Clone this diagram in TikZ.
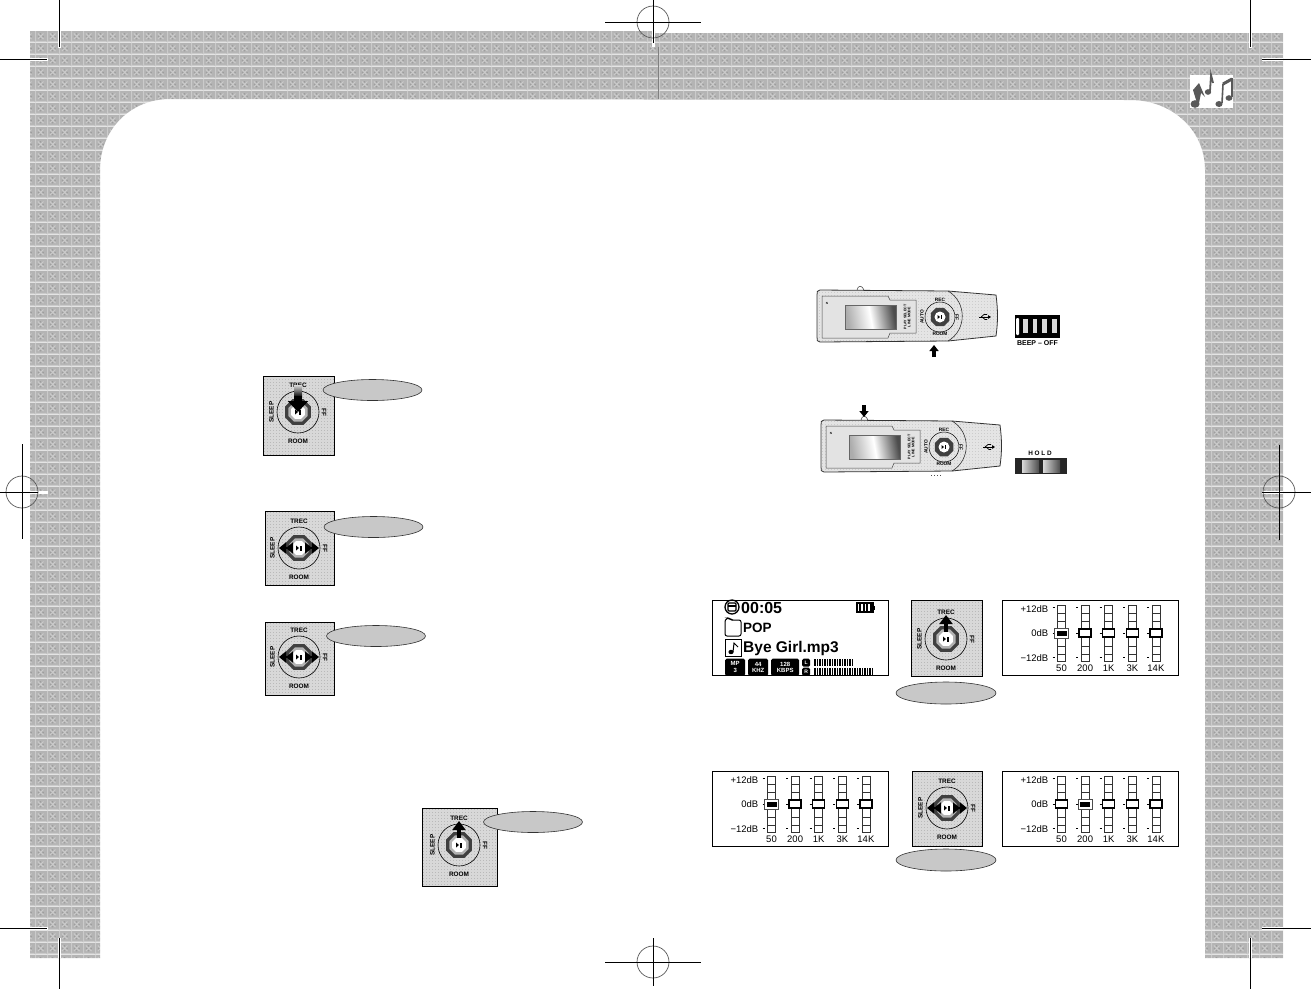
\documentclass[tikz,border=0pt]{standalone}
\usepackage{fontspec}
\setmainfont{Liberation Sans}
\usepackage{tikz}
\usetikzlibrary{calc, positioning, arrows.meta, patterns, shapes.geometric}
\usepackage{xcolor}
\definecolor{pageGrey}{RGB}{180, 180, 180}
\definecolor{padGrey}{RGB}{216, 216, 216}
\definecolor{ovalGrey}{RGB}{200, 200, 200}

% page ground, crosses on a grid
\pgfdeclarepatterninherentlycolored{pageweave}{\pgfpointorigin}{\pgfqpoint{11.7pt}{11.7pt}}{\pgfqpoint{11.7pt}{11.7pt}}{
  \pgfsetfillcolor{pageGrey}
  \pgfpathrectangle{\pgfpointorigin}{\pgfqpoint{11.7pt}{11.7pt}}\pgfusepath{fill}
  \pgfsetstrokecolor{pageGrey!70!white}
  \pgfsetlinewidth{1pt}
  \pgfpathmoveto{\pgfqpoint{3pt}{3pt}}\pgfpathlineto{\pgfqpoint{8.7pt}{8.7pt}}
  \pgfpathmoveto{\pgfqpoint{3pt}{8.7pt}}\pgfpathlineto{\pgfqpoint{8.7pt}{3pt}}
  \pgfpathmoveto{\pgfqpoint{0pt}{0.6pt}}\pgfpathlineto{\pgfqpoint{11.7pt}{0.6pt}}
  \pgfpathmoveto{\pgfqpoint{0.6pt}{0pt}}\pgfpathlineto{\pgfqpoint{0.6pt}{11.7pt}}
  \pgfusepath{stroke}
  \pgfsetfillcolor{pageGrey!88!black}
  \pgfpathrectangle{\pgfqpoint{3pt}{5pt}}{\pgfqpoint{1.4pt}{1.4pt}}
  \pgfpathrectangle{\pgfqpoint{7.6pt}{5pt}}{\pgfqpoint{1.4pt}{1.4pt}}
  \pgfpathrectangle{\pgfqpoint{5pt}{2.6pt}}{\pgfqpoint{1.4pt}{1.4pt}}
  \pgfpathrectangle{\pgfqpoint{5pt}{7.6pt}}{\pgfqpoint{1.4pt}{1.4pt}}
  \pgfusepath{fill}
}
\pgfdeclarepatternformonly{padspeck}{\pgfpointorigin}{\pgfqpoint{3pt}{3pt}}{\pgfqpoint{3pt}{3pt}}{
  \pgfpathrectangle{\pgfpointorigin}{\pgfqpoint{1pt}{1pt}}\pgfusepath{fill}
}

\tikzset{
  cropline/.style={black, line width=0.9pt},
  cropring/.style={black!65, line width=0.7pt},
  cuthalo/.style={white, line width=3pt},
  padbox/.style={draw=black, line width=0.7pt, inner sep=0pt,
    preaction={fill=padGrey}, pattern=padspeck, pattern color=gray!55},
  oval/.style={ellipse, draw=black!80, line width=0.6pt, fill=ovalGrey, inner sep=0pt,
    minimum width=99pt, minimum height=21pt},
  dialtext/.style={font=\fontsize{6.4}{7}\selectfont\bfseries, inner sep=0pt},
  playertext/.style={font=\fontsize{4.8}{5}\selectfont\bfseries, inner sep=0pt},
  eqtext/.style={font=\fontsize{9.5}{10}\selectfont, inner sep=0pt},
  panel/.style={draw=black, line width=1.3pt, fill=white, inner sep=0pt,
    minimum width=176pt, minimum height=75pt},
  chip/.style={fill=black, text=white, rounded corners=1.5pt, inner sep=0pt, align=center,
    font=\fontsize{6}{6.5}\selectfont\bfseries, minimum height=17pt},
  sidearrow/.style={line width=2.4pt, -{Triangle[width=11pt,length=7pt]}},
  uparrow/.style={line width=4pt, -{Triangle[width=13pt,length=9pt]}},
  bigarrow/.style={line width=8pt, -{Triangle[width=20pt,length=11pt]}},
  smallarrow/.style={line width=3.2pt, -{Triangle[width=9pt,length=6pt]}},
}

% the wheel of a pad: #1 name, #2 x, #3 y
\newcommand{\dialface}[3]{
  \begin{scope}[shift={(#2,#3)}]
    \draw[black, line width=0.6pt] (0,0) circle [radius=21pt];
    \node[regular polygon, regular polygon sides=8, fill=black!75, inner sep=0pt, minimum size=28pt] (#1) at (0,0) {};
    \node[regular polygon, regular polygon sides=8, fill=gray!60, inner sep=0pt, minimum size=21pt] at (0,0) {};
    \node[regular polygon, regular polygon sides=8, fill=white, inner sep=0pt, minimum size=15pt] at (0,0) {};
    \fill[black] (-3,-2.5) -- (0,0) -- (-3,2.5) -- cycle;
    \fill[black] (1,-2.5) rectangle (3,2.5);
    \node[dialtext] at (0,-27) {TREC};
    \node[dialtext] at (0,29) {ROOM};
    \node[dialtext, rotate=90] at (-26.5,0) {SLEEP};
    \node[dialtext, rotate=-90] at (26,0) {FF};
  \end{scope}
}
% arrows on both sides of a wheel
\newcommand{\dialsides}[2]{
  \begin{scope}[shift={(#1,#2)}]
    \draw[sidearrow] (-9,0) -- (-20,0);
    \draw[sidearrow] (-12,0) -- (-13,0);
    \draw[sidearrow] (9,0) -- (20,0);
    \draw[sidearrow] (12,0) -- (13,0);
  \end{scope}
}
% equalizer screen: #1 name, #2 x, #3 y (top left), #4 slider in use
\newcommand{\eqpanel}[4]{
  \node[panel, anchor=north west] (#1) at (#2,#3) {};
  \begin{scope}[shift={(#2,#3)}]
    \node[eqtext, anchor=east] at (47,9) {+12dB};
    \node[eqtext, anchor=east] at (47,33) {0dB};
    \node[eqtext, anchor=east] at (47,58) {−12dB};
    \foreach \i/\f in {0/50, 1/200, 2/1K, 3/3K, 4/14K} {
      \pgfmathsetmacro{\sx}{60+23.6*\i}
      \draw[black!80, line width=0.7pt] (\sx-4,5) rectangle (\sx+4,61);
      \foreach \ry in {13,21,46,54} \draw[black!80, line width=0.7pt] (\sx-4,\ry) -- (\sx+4,\ry);
      \foreach \ry in {7,33,57} \draw[black, line width=0.8pt] (\sx-9,\ry) -- (\sx-7,\ry);
      \ifnum\i=#4
        \draw[black!70, fill=white, line width=0.8pt] (\sx-7,28) rectangle (\sx+7,38);
        \fill[black] (\sx-5,30.5) rectangle (\sx+5,35.5);
      \else
        \draw[black, fill=white, line width=1.5pt] (\sx-6,29) rectangle (\sx+6,37);
      \fi
      \node[eqtext] at (\sx,68.5) {\f};
    }
  \end{scope}
}
% the player seen from above: #1 name, #2 x, #3 y (top left)
\newcommand{\playerbody}[3]{
  \begin{scope}[shift={(#2,#3)}]
    \draw[black!80, line width=0.5pt, fill=white] (40,0) .. controls (41,-5) and (45,-5) .. (47,0);
    \path[draw=black!80, line width=0.8pt, preaction={fill=padGrey!70!white}, pattern=padspeck, pattern color=gray!40]
      (3,0) -- (131,1) -- (179,5) .. controls (181,20) and (181,32) .. (179,46) -- (131,51) -- (3,52)
      .. controls (0,52) and (0,50) .. (0,47) -- (0,5) .. controls (0,2) and (0,0) .. (3,0) -- cycle;
    \draw[black!80, line width=0.6pt] (131,1) .. controls (150,12) and (150,40) .. (131,51);
    \draw[black!70, line width=0.5pt, fill=gray!22]
      (5,6) -- (71,6) -- (73,10) -- (99,10) -- (99,43) -- (73,43) -- (71,48) -- (5,48) -- cycle;
    \shade[left color=gray!65, right color=black!70, middle color=white, shading angle=100, draw=black!60, line width=0.5pt] (28,15) rectangle (79,39);
    \node[font=\fontsize{3.6}{4}\selectfont\bfseries, rotate=90, align=center, inner sep=0pt] at (90,27) {PLAY SELECT\\LINE MODE};
    \node[font=\fontsize{3}{3}\selectfont\bfseries, inner sep=0pt] at (10,13) {N};
    \draw[black, line width=0.5pt] (123,27) circle [radius=15pt];
    \node[regular polygon, regular polygon sides=8, fill=black!75, inner sep=0pt, minimum size=20pt] (#1) at (123,27) {};
    \node[circle, fill=white, inner sep=0pt, minimum size=11pt] at (123,27) {};
    \fill[black] (120.5,25) -- (123,27) -- (120.5,29) -- cycle;
    \fill[black] (123.5,25) rectangle (125,29);
    \node[playertext] at (123,10) {REC};
    \node[playertext] at (123,44) {ROOM};
    \node[playertext, rotate=90] at (105,27) {AUTO};
    \node[playertext, rotate=-90] at (140,27) {FF};
    \draw[black, line width=0.9pt, -{Triangle[width=3.5pt,length=3pt]}] (162,27) -- (174,27);
    \draw[black, line width=0.7pt] (164,27) -- (167,24.5) -- (170,24.5) (165,27) -- (168,29.5) -- (170,29.5);
  \end{scope}
}

\begin{document}
\begin{tikzpicture}[x=1pt, y=-1pt, >=Stealth]
  \useasboundingbox (0,0) rectangle (1311,989);
  \fill[white] (0,0) rectangle (1311,989);

  % page ground
  \path[pattern=pageweave] (30,31) -- (655,31) -- (655,33) -- (1283,33) -- (1283,958) -- (1205,958) -- (1205,170)
    .. controls (1205,130) and (1172,100) .. (1130,100) -- (170,99)
    .. controls (130,99) and (100,130) .. (100,170) -- (100,958) -- (30,958) -- cycle;
  \draw[black!50, line width=0.6pt] (658,47) -- (658,99);

  % cut and register marks
  \draw[cuthalo] (59.5,31) -- (59.5,48);
  \draw[cuthalo] (30,59) -- (48,59);
  \draw[cuthalo] (1250,33) -- (1250,48);
  \draw[cuthalo] (1262,59) -- (1283,59);
  \draw[cuthalo] (59.5,938) -- (59.5,958);
  \draw[cuthalo] (30,928) -- (48,928);
  \draw[cuthalo] (1250,938) -- (1250,958);
  \draw[cuthalo] (1262,928) -- (1283,928);
  \draw[cuthalo] (653,31) -- (653,47);
  \draw[cuthalo] (30,492) -- (48,492);
  \draw[cuthalo] (1262,492) -- (1283,492);
  \draw[cropline] (59.5,0) -- (59.5,47);
  \draw[cropline] (0,59) -- (47,59);
  \draw[cropline] (1250,0) -- (1250,47);
  \draw[cropline] (1262,59) -- (1311,59);
  \draw[cropline] (59.5,938) -- (59.5,989);
  \draw[cropline] (0,928) -- (47,928);
  \draw[cropline] (1250,938) -- (1250,989);
  \draw[cropline] (1262,928) -- (1311,928);
  \foreach \mx/\my in {653/22, 653/962, 22/492, 1279/492} {
    \draw[cropring] (\mx,\my) circle [radius=16pt];
  }
  \draw[cropline] (605,22) -- (701,22);
  \draw[cropline] (653,0) -- (653,43);
  \draw[cropline] (605,962) -- (701,962);
  \draw[cropline] (653,938) -- (653,986);
  \draw[cropline] (0,492) -- (38,492);
  \draw[cropline] (22,444) -- (22,539);
  \draw[cropline] (1262,492) -- (1311,492);
  \draw[cropline] (1279,445) -- (1279,540);

  % notes, top right
  \fill[white] (1190,75) rectangle (1233,108);
  \fill[black!65] (1195,104) ellipse [x radius=4.5pt, y radius=3.8pt];
  \fill[black!65] (1208,92) ellipse [x radius=3.2pt, y radius=2.8pt];
  \fill[black!65] (1219,104) ellipse [x radius=3.6pt, y radius=3pt];
  \fill[black!65] (1229,98) ellipse [x radius=3.4pt, y radius=2.8pt];
  \fill[black!65] (1197,103) -- (1193,90) -- (1199,83) -- (1205,97) -- (1201,93) -- (1199,103) -- cycle;
  \draw[black!65, line width=1.8pt] (1210,91) -- (1211,75) -- (1213,83);
  \draw[black!65, line width=1.6pt] (1222,103) -- (1223,84);
  \draw[black!65, line width=1.6pt] (1232,97) -- (1232,78);
  \draw[black!65, line width=3pt] (1223,84) -- (1232,79);

  % pads, left page
  \node[padbox, minimum width=71pt, minimum height=79pt] (padA) at (298.5,415.5) {};
  \dialface{wheelA}{298}{412}
  \shade[top color=gray!30, bottom color=black] (294,385) rectangle (302,397);
  \coordinate (pushTail) at (298,396);
  \coordinate (pushHead) at (298,412);
  \draw[bigarrow] (pushTail) -- (pushHead);
  \node[oval] (ovalA) at (372.5,390) {};

  \node[padbox, minimum width=69pt, minimum height=74pt] (padB) at (299.5,548) {};
  \dialface{wheelB}{299}{548}
  \dialsides{299}{548}
  \node[oval] (ovalB) at (373.5,527) {};

  \node[padbox, minimum width=69pt, minimum height=73pt] (padC) at (299.5,658.5) {};
  \dialface{wheelC}{299}{657}
  \dialsides{299}{657}
  \node[oval] (ovalC) at (376,636) {};

  \node[padbox, minimum width=75pt, minimum height=78pt] (padD) at (459.5,847) {};
  \dialface{wheelD}{459}{845}
  \draw[uparrow] (459,838) -- (459,821);
  \node[oval] (ovalD) at (533,822) {};

  % players, right page
  \playerbody{wheelE}{817}{290}
  \draw[smallarrow] (934,357) -- (934,345);
  \playerbody{wheelF}{821}{420}
  \draw[smallarrow] (864,405) -- (864,417);
  \draw[black!70, line width=1pt, dotted] (931,475.5) -- (943,475.5);

  % beep icon
  \fill[black] (1015,315) rectangle (1060,338);
  \fill[white, rounded corners=1pt] (1016,318) rectangle (1019,335);
  \foreach \s in {0,1,2,3} {
    \fill[white!85!black] (1023+9.7*\s,319) rectangle (1027.5+9.7*\s,333);
  }
  \node[font=\fontsize{7}{7}\selectfont\bfseries, inner sep=0pt] (beepText) at (1037.5,343.5) {BEEP – OFF};

  % hold icon
  \fill[black!85] (1015,458) rectangle (1067,474);
  \shade[left color=gray!30, right color=black!70] (1022,460) rectangle (1039,472);
  \shade[left color=gray!30, right color=black!70] (1043,460) rectangle (1060,472);
  \node[font=\fontsize{6.4}{6}\selectfont\bfseries, inner sep=0pt] (holdText) at (1040,453) {H O L D};

  % screen with the song
  \node[panel, anchor=north west] (lcd) at (711.5,600) {};
  \draw[black, line width=1.3pt] (732,607) circle [radius=7pt];
  \draw[black, line width=1.2pt, rounded corners=1pt] (728,603) rectangle (736,611);
  \draw[black, line width=1.2pt] (728,606) -- (736,606);
  \node[font=\fontsize{16}{16}\selectfont\bfseries, anchor=west, inner sep=0pt] (lcdTime) at (741,607.5) {00:05};
  \draw[black, line width=1.3pt] (857,603) rectangle (873,612);
  \fill[black] (873,605.5) rectangle (875,609.5);
  \foreach \s in {0,1,2,3} \fill[black] (859+3.5*\s,604) rectangle (861+3.5*\s,611);
  \draw[black, line width=1pt, rounded corners=2pt] (725,622) -- (725,636) -- (741,636) -- (741,620) -- (731,620) -- (729,618) -- (726,618) -- (725,622);
  \node[font=\fontsize{13.5}{14}\selectfont\bfseries, anchor=west, inner sep=0pt] (lcdFolder) at (743,628) {POP};
  \draw[black, line width=1pt] (725,639) rectangle (741,656);
  \fill[black] (731,652) ellipse [x radius=2.6pt, y radius=2.2pt];
  \draw[black, line width=1pt] (733,652) -- (734,643) -- (738,647);
  \node[font=\fontsize{15.5}{16}\selectfont\bfseries, anchor=west, inner sep=0pt] (lcdSong) at (743,648) {Bye Girl.mp3};
  \node[chip, minimum width=20pt, anchor=north west] (chipA) at (725,658.5) {MP\\3};
  \node[chip, minimum width=20pt, anchor=north west] (chipB) at (748,658.5) {44\\KHZ};
  \node[chip, minimum width=28pt, anchor=north west] (chipC) at (771,658.5) {128\\KBPS};
  \node[chip, minimum width=8pt, minimum height=8pt, font=\fontsize{5}{5}\selectfont\bfseries, anchor=north west] (chipL) at (802,658.5) {L};
  \node[chip, minimum width=8pt, minimum height=8pt, font=\fontsize{5}{5}\selectfont\bfseries, anchor=north west] (chipR) at (802,667.5) {R};
  \foreach \s in {0,...,15} \draw[black, line width=1.3pt] (815+2.5*\s,659) -- (815+2.5*\s,666);
  \foreach \s in {0,...,23} \draw[black, line width=1.3pt] (815+2.5*\s,668) -- (815+2.5*\s,675);

  % equalizer screens
  \eqpanel{eqTop}{1001.5}{600}{0}
  \eqpanel{eqLeft}{711.5}{771}{0}
  \eqpanel{eqRight}{1001.5}{771}{1}

  % pads between the screens
  \node[padbox, minimum width=71pt, minimum height=76pt] (padE) at (946.5,638) {};
  \dialface{wheelG}{946}{639}
  \draw[uparrow] (946,632) -- (946,615);
  \node[oval, minimum height=22pt, minimum width=100pt] (ovalE) at (946,693) {};

  \node[padbox, minimum width=70pt, minimum height=75pt] (padF) at (947,808.5) {};
  \dialface{wheelH}{947}{808}
  \dialsides{947}{808}
  \node[oval, minimum height=22pt, minimum width=100pt] (ovalF) at (946,860) {};
\end{tikzpicture}
\end{document}
